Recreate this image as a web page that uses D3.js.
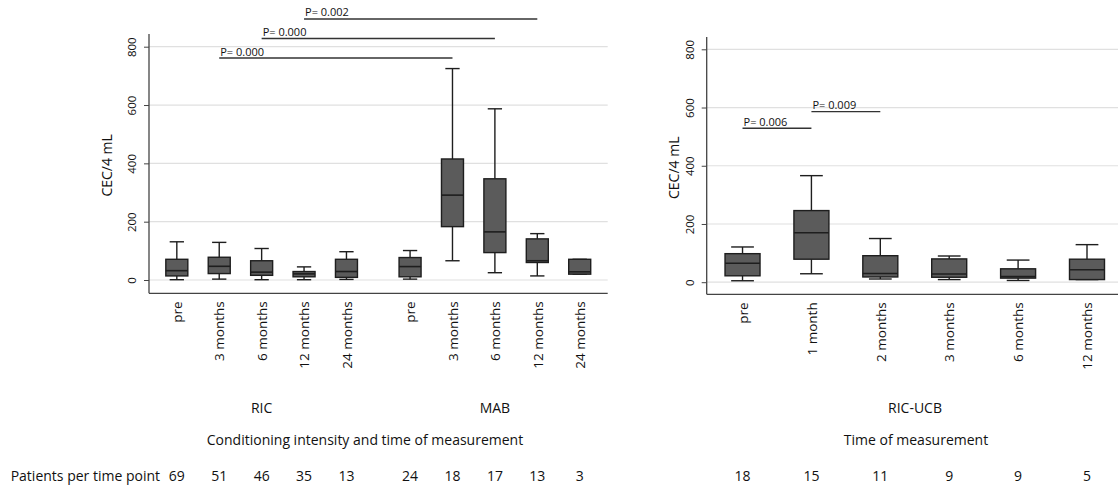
<!DOCTYPE html>
<html lang="en">
<head>
  <meta charset="UTF-8" />
  <title>CEC per 4 mL by conditioning and time</title>
  <script src="https://d3js.org/d3.v7.min.js"></script>
  <style>
    body { margin: 0; background: #fff; }
    svg { display: block; }
    text { font-family: 'Open Sans', sans-serif; fill: #111; }
  </style>
</head>
<body>
<svg id="chart" width="1118" height="488"></svg>
<script>
  // --- data: left panel (RIC and MAB) ---
  const ricTimes = ["pre", "3 months", "6 months", "12 months", "24 months"];
  const mabTimes = ["pre", "3 months", "6 months", "12 months", "24 months"];
  // box stats: [lower whisker, q1, median, q3, upper whisker]
  const ricStats = [
    [1, 14, 32, 71, 131],
    [3, 22, 47, 78, 129],
    [1, 16, 27, 66, 108],
    [1, 11, 21, 29, 45],
    [2, 9, 29, 71, 97]
  ];
  const mabStats = [
    [3, 11, 46, 77, 101],
    [66, 183, 291, 415, 725],
    [25, 94, 165, 347, 587],
    [14, 60, 66, 141, 159],
    [20, 20, 28, 71, 71]
  ];
  const ricN = [69, 51, 46, 35, 13];
  const mabN = [24, 18, 17, 13, 3];

  // --- data: right panel (RIC-UCB) ---
  const ucbTimes = ["pre", "1 month", "2 months", "3 months", "6 months", "12 months"];
  const ucbStats = [
    [5, 22, 65, 98, 121],
    [29, 79, 170, 246, 366],
    [11, 18, 30, 91, 150],
    [9, 17, 28, 80, 90],
    [6, 14, 19, 46, 76],
    [9, 9, 43, 79, 129]
  ];
  const ucbN = [18, 15, 11, 9, 9, 5];

  // significance bars: [from position, to position, height in CEC units, label]
  const leftPvals = [
    [1, 6.5, 761, "P= 0.000"],
    [2, 7.5, 828, "P= 0.000"],
    [3, 8.5, 895, "P= 0.002"]
  ];
  const rightPvals = [
    [0, 1, 529, "P= 0.006"],
    [1, 2, 586, "P= 0.009"]
  ];

  const yTicks = [0, 200, 400, 600, 800];

  const svg = d3.select("#chart");
  const boxFill = "#5b5b5b", ink = "#1e1e1e";

  // draw one boxplot panel
  function panel(opt) {
    const g = svg.append("g");
    const x = d3.scaleLinear().domain(opt.xDomain).range(opt.xRange);
    const y = d3.scaleLinear().domain([0, 800]).range(opt.yRange);

    // gridlines
    g.selectAll("line.grid").data(yTicks).join("line")
      .attr("x1", opt.xRange[0]).attr("x2", opt.xRange[1])
      .attr("y1", d => y(d)).attr("y2", d => y(d))
      .attr("stroke", "#e0e0e0").attr("stroke-width", 1.2);

    // y axis
    const ya = g.append("g").attr("transform", `translate(${opt.xRange[0]},0)`)
      .call(d3.axisLeft(y).tickValues(yTicks).tickSize(5).tickPadding(4));
    ya.select(".domain").remove();
    ya.selectAll(".tick line").attr("stroke", "#444");
    ya.selectAll(".tick text")
      .attr("font-family", "'Open Sans', sans-serif").attr("font-size", 11.5).attr("fill", "#111")
      .attr("text-anchor", "middle").attr("x", 0).attr("dy", 0)
      .attr("transform", "translate(-13,0) rotate(-90)");
    g.append("line")
      .attr("x1", opt.xRange[0]).attr("x2", opt.xRange[0])
      .attr("y1", opt.axisTop).attr("y2", opt.axisY)
      .attr("stroke", "#444").attr("stroke-width", 1.3);

    // x axis line
    g.append("line")
      .attr("x1", opt.xRange[0]).attr("x2", opt.xRange[1])
      .attr("y1", opt.axisY).attr("y2", opt.axisY)
      .attr("stroke", "#444").attr("stroke-width", 1.3);

    // x tick labels
    const xa = g.append("g").attr("transform", `translate(0,${opt.axisY})`)
      .call(d3.axisBottom(x).tickValues(opt.pos).tickSize(0)
        .tickFormat((d, i) => opt.labels[i]));
    xa.select(".domain").remove();
    xa.selectAll(".tick text")
      .attr("font-family", "'Open Sans', sans-serif").attr("font-size", 13.5).attr("fill", "#111")
      .attr("text-anchor", "end").attr("x", 0).attr("y", 0).attr("dy", "0.35em")
      .attr("transform", "translate(0,8) rotate(-90)");

    // boxes
    const bw = opt.boxWidth, cw = bw * 0.65;
    const boxes = g.selectAll("g.box").data(opt.stats).join("g")
      .attr("transform", (d, i) => `translate(${x(opt.pos[i])},0)`);
    boxes.append("line")
      .attr("y1", d => y(d[0])).attr("y2", d => y(d[1]))
      .attr("stroke", ink).attr("stroke-width", 1.4);
    boxes.append("line")
      .attr("y1", d => y(d[3])).attr("y2", d => y(d[4]))
      .attr("stroke", ink).attr("stroke-width", 1.4);
    boxes.append("line")
      .attr("x1", -cw / 2).attr("x2", cw / 2)
      .attr("y1", d => y(d[0])).attr("y2", d => y(d[0]))
      .attr("stroke", ink).attr("stroke-width", 1.4);
    boxes.append("line")
      .attr("x1", -cw / 2).attr("x2", cw / 2)
      .attr("y1", d => y(d[4])).attr("y2", d => y(d[4]))
      .attr("stroke", ink).attr("stroke-width", 1.4);
    boxes.append("rect")
      .attr("x", -bw / 2).attr("width", bw)
      .attr("y", d => y(d[3])).attr("height", d => y(d[1]) - y(d[3]))
      .attr("fill", boxFill).attr("stroke", ink).attr("stroke-width", 1.4);
    boxes.append("line")
      .attr("x1", -bw / 2).attr("x2", bw / 2)
      .attr("y1", d => y(d[2])).attr("y2", d => y(d[2]))
      .attr("stroke", ink).attr("stroke-width", 1.6);

    // p-value bars
    const pv = g.selectAll("g.pv").data(opt.pvals).join("g");
    pv.append("line")
      .attr("x1", d => x(d[0])).attr("x2", d => x(d[1]))
      .attr("y1", d => y(d[2])).attr("y2", d => y(d[2]))
      .attr("stroke", "#333").attr("stroke-width", 1.4);
    pv.append("text")
      .attr("x", d => x(d[0]) + 1).attr("y", d => y(d[2]) - 2.5)
      .attr("font-size", 11).text(d => d[3]);

    // y title
    g.append("text")
      .attr("transform", `translate(${opt.titleX},${(opt.yRange[0] + opt.yRange[1]) / 2 + 2}) rotate(-90)`)
      .attr("text-anchor", "middle").attr("font-size", 14)
      .text("CEC/4 mL");

    // patients per time point
    g.selectAll("text.n").data(opt.n).join("text")
      .attr("x", (d, i) => x(opt.pos[i])).attr("y", 481)
      .attr("text-anchor", "middle").attr("font-size", 14)
      .text(d => d);

    return x;
  }

  const leftPos = ricTimes.map((d, i) => i).concat(mabTimes.map((d, i) => i + 5.5));
  const xl = panel({
    xDomain: [-0.656, 10.16], xRange: [149, 607.7],
    yRange: [280, 46.7], axisTop: 34, axisY: 293.3,
    pos: leftPos, labels: ricTimes.concat(mabTimes),
    stats: ricStats.concat(mabStats), n: ricN.concat(mabN),
    pvals: leftPvals,
    boxWidth: 22, titleX: 112
  });

  const rightPos = ucbTimes.map((d, i) => i);
  const xr = panel({
    xDomain: [-0.52, 5.45], xRange: [706.7, 1118],
    yRange: [282.2, 49.3], axisTop: 37, axisY: 294.3,
    pos: rightPos, labels: ucbTimes,
    stats: ucbStats, n: ucbN, pvals: rightPvals,
    boxWidth: 35, titleX: 679
  });

  // group labels and axis titles
  svg.append("text").attr("x", xl(2)).attr("y", 413).attr("text-anchor", "middle")
    .attr("font-size", 14).text("RIC");
  svg.append("text").attr("x", xl(7.5)).attr("y", 413).attr("text-anchor", "middle")
    .attr("font-size", 14).text("MAB");
  svg.append("text").attr("x", 365).attr("y", 445).attr("text-anchor", "middle")
    .attr("font-size", 14).text("Conditioning intensity and time of measurement");
  svg.append("text").attr("x", 915).attr("y", 413).attr("text-anchor", "middle")
    .attr("font-size", 14).text("RIC-UCB");
  svg.append("text").attr("x", 916).attr("y", 445).attr("text-anchor", "middle")
    .attr("font-size", 14).text("Time of measurement");
  svg.append("text").attr("x", 160).attr("y", 481).attr("text-anchor", "end")
    .attr("font-size", 14).text("Patients per time point");
</script>
</body>
</html>
